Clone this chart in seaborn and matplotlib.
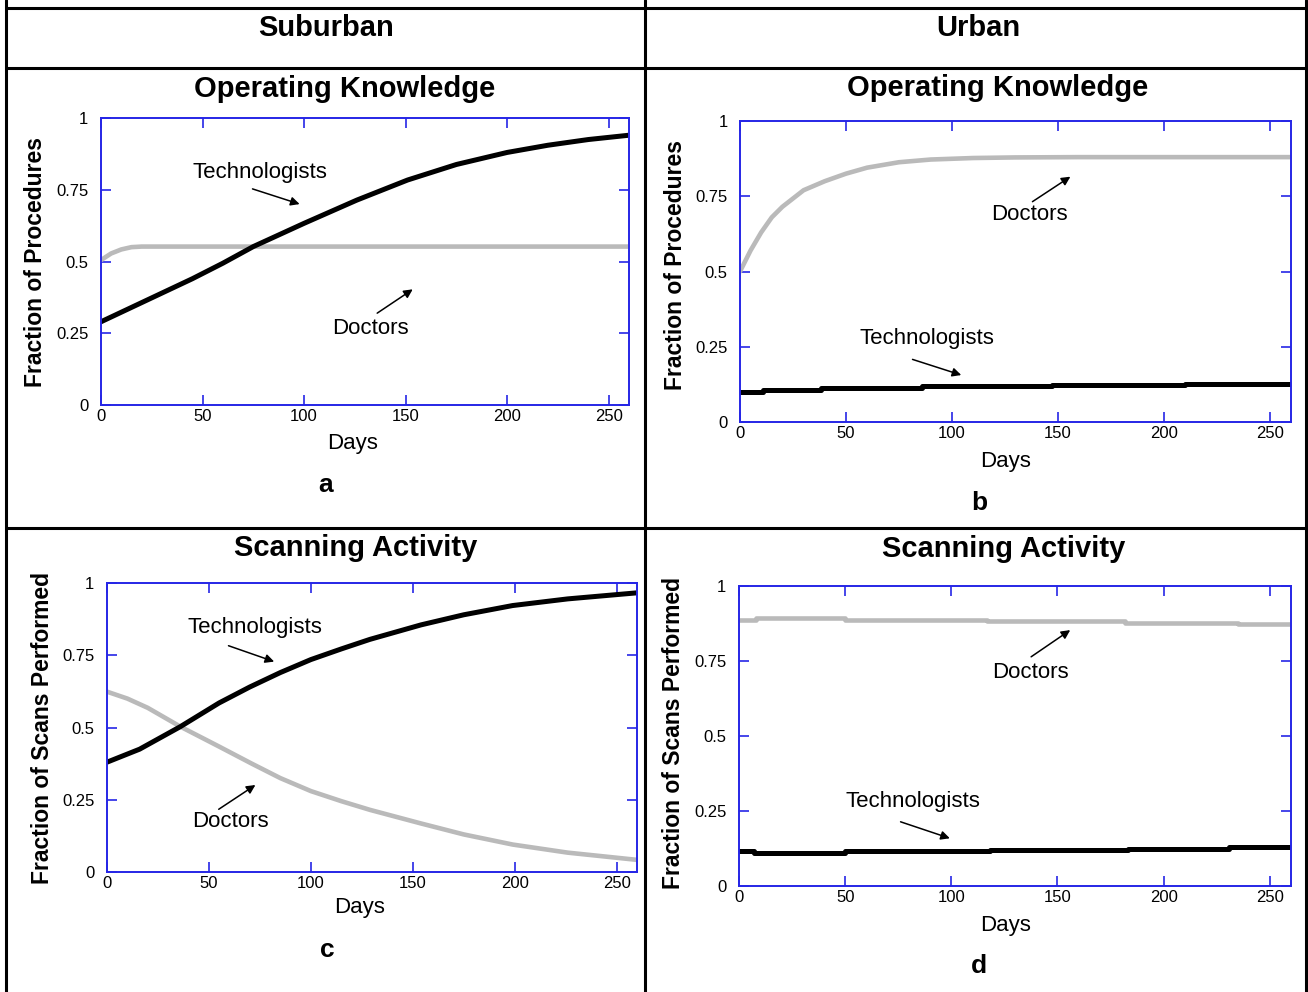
import matplotlib
matplotlib.use("Agg")
import matplotlib.pyplot as plt
from matplotlib.lines import Line2D
import seaborn as sns

# ---- data ----
a_tech_days = [0, 15, 33, 45, 60, 75, 100, 126, 151, 175, 200, 220, 240, 260]
a_tech_frac = [0.29, 0.34, 0.40, 0.44, 0.494, 0.552, 0.633, 0.714, 0.784, 0.838, 0.88, 0.905, 0.925, 0.94]
a_doc_days = [0, 5, 10, 15, 20, 260]
a_doc_frac = [0.505, 0.528, 0.542, 0.55, 0.552, 0.552]

b_tech_days = [0, 11, 38, 86, 147, 210, 260]
b_tech_frac = [0.101, 0.106, 0.113, 0.118, 0.122, 0.127, 0.127]
b_doc_days = [0, 5, 10, 15, 20, 30, 40, 50, 60, 75, 90, 110, 130, 160, 260]
b_doc_frac = [0.50, 0.57, 0.63, 0.68, 0.715, 0.77, 0.80, 0.825, 0.845, 0.863, 0.872, 0.877, 0.879, 0.88, 0.88]

c_tech_days = [0, 16, 36, 55, 70, 85, 100, 115, 129, 154, 175, 199, 226, 260]
c_tech_frac = [0.38, 0.425, 0.503, 0.585, 0.64, 0.69, 0.735, 0.772, 0.805, 0.855, 0.89, 0.922, 0.945, 0.966]
c_doc_days = [0, 10, 20, 36, 55, 71, 85, 100, 115, 129, 154, 175, 199, 226, 260]
c_doc_frac = [0.624, 0.6, 0.568, 0.503, 0.434, 0.375, 0.325, 0.28, 0.245, 0.215, 0.168, 0.13, 0.095, 0.067, 0.042]

d_tech_days = [0, 7, 50, 118, 183, 231, 260]
d_tech_frac = [0.117, 0.111, 0.117, 0.12, 0.124, 0.13, 0.13]
d_doc_days = [0, 8, 50, 117, 182, 235, 260]
d_doc_frac = [0.888, 0.895, 0.888, 0.883, 0.878, 0.872, 0.872]

x_ticks = [0, 50, 100, 150, 200, 250]
y_ticks = [0, 0.25, 0.5, 0.75, 1]
y_tick_labels = ["0", "0.25", "0.5", "0.75", "1"]

W, H = 1308, 992
BLUE = "#2626e6"
GREY = "#bababa"

sns.set_theme(style="white")
plt.rcParams["font.family"] = ["Liberation Sans", "DejaVu Sans"]
plt.rcParams["text.color"] = "black"
plt.rcParams["axes.labelcolor"] = "black"

fig = plt.figure(figsize=(W / 100, H / 100), dpi=100)


def fx(x):
    return x / W


def fy(y):
    return 1 - y / H


# table grid
for x in (6, 645, 1306):
    fig.add_artist(Line2D([fx(x), fx(x)], [0, 1], color="black", lw=2.2, transform=fig.transFigure))
for y in (8, 68, 528):
    fig.add_artist(Line2D([fx(6), fx(1306)], [fy(y), fy(y)], color="black", lw=2.2, transform=fig.transFigure))

fig.text(fx(326), fy(28), "Suburban", ha="center", va="center", fontsize=21, fontweight="bold")
fig.text(fx(978), fy(28), "Urban", ha="center", va="center", fontsize=21, fontweight="bold")

panels = [
    dict(box=(101, 629, 118, 405), title="Operating Knowledge", title_xy=(345, 89),
         ylabel="Fraction of Procedures", ylab_xy=(36, 262), days_xy=(353, 443),
         letter="a", letter_xy=(326, 485),
         doc=(a_doc_days, a_doc_frac, "default"), tech=(a_tech_days, a_tech_frac, "default"),
         tech_note=((78.2, 0.81), (74.6, 0.753), (97.8, 0.70)),
         doc_note=((132.9, 0.268), (136, 0.32), (153.5, 0.403))),
    dict(box=(740, 1291, 121, 422), title="Operating Knowledge", title_xy=(998, 88),
         ylabel="Fraction of Procedures", ylab_xy=(675, 265), days_xy=(1006, 461),
         letter="b", letter_xy=(979, 503),
         doc=(b_doc_days, b_doc_frac, "default"), tech=(b_tech_days, b_tech_frac, "steps-post"),
         tech_note=((88, 0.278), (81.4, 0.208), (104.4, 0.156)),
         doc_note=((136.6, 0.688), (138, 0.732), (155.9, 0.815))),
    dict(box=(107, 637, 583, 872), title="Scanning Activity", title_xy=(356, 548),
         ylabel="Fraction of Scans Performed", ylab_xy=(42, 728), days_xy=(360, 908),
         letter="c", letter_xy=(327, 950),
         doc=(c_doc_days, c_doc_frac, "default"), tech=(c_tech_days, c_tech_frac, "default"),
         tech_note=((72.4, 0.847), (59.6, 0.783), (82, 0.728)),
         doc_note=((60.6, 0.174), (54.8, 0.217), (72.8, 0.301))),
    dict(box=(739, 1291, 586, 886), title="Scanning Activity", title_xy=(1004, 549),
         ylabel="Fraction of Scans Performed", ylab_xy=(674, 733), days_xy=(1006, 925),
         letter="d", letter_xy=(979, 966),
         doc=(d_doc_days, d_doc_frac, "steps-post"), tech=(d_tech_days, d_tech_frac, "steps-post"),
         tech_note=((82.1, 0.283), (76.1, 0.214), (99.3, 0.159)),
         doc_note=((137.5, 0.711), (137.6, 0.764), (156, 0.853))),
]

for p in panels:
    l, r, t, b = p["box"]
    ax = fig.add_axes([fx(l), fy(b), (r - l) / W, (b - t) / H])
    ax.set_facecolor("white")

    dd, df, ds = p["doc"]
    sns.lineplot(x=dd, y=df, ax=ax, color=GREY, lw=3.3, drawstyle=ds)
    td, tf, ts = p["tech"]
    sns.lineplot(x=td, y=tf, ax=ax, color="black", lw=3.6, drawstyle=ts)

    ax.set_xlim(0, 260)
    ax.set_ylim(0, 1)
    ax.set_xticks(x_ticks)
    ax.set_xticklabels([str(v) for v in x_ticks])
    ax.set_yticks(y_ticks)
    ax.set_yticklabels(y_tick_labels)
    for s in ax.spines.values():
        s.set_color(BLUE)
        s.set_linewidth(1.4)
    ax.tick_params(direction="in", length=7, width=1.2, color=BLUE, labelsize=12,
                   labelcolor="black", top=True, right=True, bottom=True, left=True)
    ax.tick_params(axis="x", pad=3)
    ax.tick_params(axis="y", pad=9)

    ax.set_xlabel("Days", fontsize=16, color="black")
    ax.xaxis.label.set_va("center")
    ax.xaxis.set_label_coords((p["days_xy"][0] - l) / (r - l), (b - p["days_xy"][1]) / (b - t))
    ax.set_ylabel(p["ylabel"], fontsize=16.5, color="black")
    ax.yaxis.label.set_fontweight("bold")
    ax.yaxis.label.set_va("center")
    ax.yaxis.set_label_coords((p["ylab_xy"][0] - l) / (r - l), (b - p["ylab_xy"][1]) / (b - t))

    fig.text(fx(p["title_xy"][0]), fy(p["title_xy"][1]), p["title"], ha="center", va="center",
             fontsize=21, fontweight="bold")
    fig.text(fx(p["letter_xy"][0]), fy(p["letter_xy"][1]), p["letter"], ha="center", va="center",
             fontsize=19, fontweight="bold")

    for label, (txt, tail, head) in (("Technologists", p["tech_note"]), ("Doctors", p["doc_note"])):
        ax.text(txt[0], txt[1], label, ha="center", va="center", fontsize=16, color="black")
        ax.annotate("", xy=head, xytext=tail,
                    arrowprops=dict(arrowstyle="-|>", color="black", lw=1.1,
                                    mutation_scale=13, shrinkA=0, shrinkB=0))

fig.savefig("out.png", dpi=100)
